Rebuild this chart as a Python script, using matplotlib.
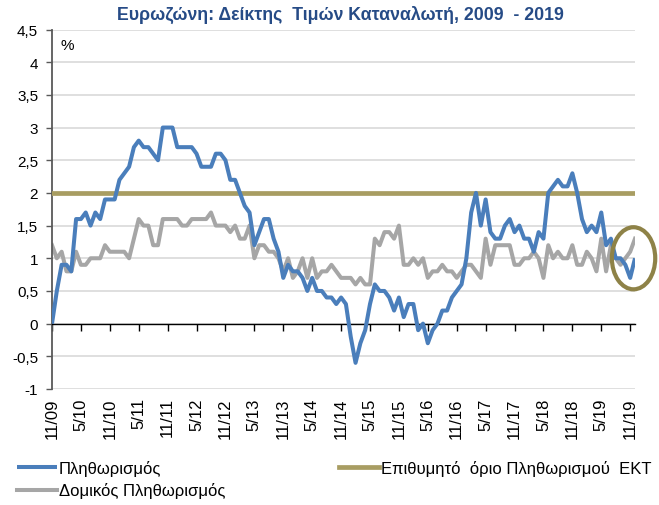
import matplotlib
matplotlib.use("Agg")
import matplotlib.pyplot as plt
from matplotlib.patches import Ellipse
from matplotlib.ticker import FixedLocator, FuncFormatter
import numpy as np

plt.rcParams['font.family'] = ['Liberation Sans', 'DejaVu Sans']

# ---- data (monthly, first point Oct 2009, last Nov 2019) ----
inflation = [0.0, 0.5, 0.9, 0.9, 0.8, 1.6, 1.6, 1.7, 1.5, 1.7, 1.6, 1.9,
             1.9, 1.9, 2.2, 2.3, 2.4, 2.7, 2.8, 2.7, 2.7, 2.6, 2.5, 3.0,
             3.0, 3.0, 2.7, 2.7, 2.7, 2.7, 2.6, 2.4, 2.4, 2.4, 2.6, 2.6,
             2.5, 2.2, 2.2, 2.0, 1.8, 1.7, 1.2, 1.4, 1.6, 1.6, 1.3, 1.1,
             0.7, 0.9, 0.8, 0.8, 0.7, 0.5, 0.7, 0.5, 0.5, 0.4, 0.4, 0.3,
             0.4, 0.3, -0.2, -0.6, -0.3, -0.1, 0.3, 0.6, 0.5, 0.5, 0.4, 0.2,
             0.4, 0.1, 0.3, 0.3, -0.1, 0.0, -0.3, -0.1, 0.0, 0.2, 0.2, 0.4,
             0.5, 0.6, 1.0, 1.7, 2.0, 1.5, 1.9, 1.4, 1.3, 1.3, 1.5, 1.6,
             1.4, 1.5, 1.3, 1.3, 1.1, 1.4, 1.3, 2.0, 2.1, 2.2, 2.1, 2.1,
             2.3, 2.0, 1.6, 1.4, 1.5, 1.4, 1.7, 1.2, 1.3, 1.0, 1.0, 0.9,
             0.7, 1.0]

core_inflation = [1.2, 1.0, 1.1, 0.8, 0.8, 1.1, 0.9, 0.9, 1.0, 1.0, 1.0, 1.2,
                  1.1, 1.1, 1.1, 1.1, 1.0, 1.3, 1.6, 1.5, 1.5, 1.2, 1.2, 1.6,
                  1.6, 1.6, 1.6, 1.5, 1.5, 1.6, 1.6, 1.6, 1.6, 1.7, 1.5, 1.5,
                  1.5, 1.4, 1.5, 1.3, 1.3, 1.5, 1.0, 1.2, 1.2, 1.1, 1.1, 1.0,
                  0.8, 1.0, 0.7, 0.8, 1.0, 0.7, 1.0, 0.7, 0.8, 0.8, 0.9, 0.8,
                  0.7, 0.7, 0.7, 0.6, 0.7, 0.6, 0.6, 1.3, 1.2, 1.4, 1.4, 1.3,
                  1.5, 0.9, 0.9, 1.0, 0.9, 1.0, 0.7, 0.8, 0.8, 0.9, 0.8, 0.8,
                  0.7, 0.8, 0.9, 0.9, 0.8, 0.7, 1.3, 0.9, 1.2, 1.2, 1.2, 1.2,
                  0.9, 0.9, 1.0, 1.0, 1.1, 1.0, 0.7, 1.2, 1.0, 1.1, 1.0, 1.0,
                  1.2, 0.9, 0.9, 1.1, 1.0, 0.8, 1.3, 0.8, 1.2, 1.0, 0.9, 1.0,
                  1.1, 1.3]

ecb_target = 2.0

tick_labels = ["11/09", "5/10", "11/10", "5/11", "11/11", "5/12", "11/12",
               "5/13", "11/13", "5/14", "11/14", "5/15", "11/15", "5/16",
               "11/16", "5/17", "11/17", "5/18", "11/18", "5/19", "11/19"]

y_ticks = [-1, -0.5, 0, 0.5, 1, 1.5, 2, 2.5, 3, 3.5, 4, 4.5]

legend_labels = ["Πληθωρισμός", "Δομικός Πληθωρισμός",
                 "Επιθυμητό  όριο Πληθωρισμού  ΕΚΤ"]
title = "Ευρωζώνη: Δείκτης  Τιμών Καταναλωτή, 2009  - 2019"

# ---- colors ----
c_blue = "#4A7EBB"
c_gray = "#A6A6A6"
c_gold = "#A89D62"
c_ellipse = "#8E8247"
c_title = "#264B86"

n = len(inflation)
x = np.arange(n)
tick_pos = np.arange(0, n, 6)[:len(tick_labels)]

fig = plt.figure(figsize=(6.59, 5.06), dpi=100)
ax = fig.add_axes([52/659, 1-390/506, (635-52)/659, (390-30.5)/506])

ax.set_xlim(0, n - 1)
ax.set_ylim(-1, 4.5)

# grid
ax.yaxis.set_major_locator(FixedLocator(y_ticks))
ax.grid(axis='y', color='#D9D9D9', linewidth=1.2, zorder=0)
ax.set_axisbelow(True)

l_blue, = ax.plot(x, inflation, color=c_blue, linewidth=2.9, zorder=4,
                  solid_joinstyle='round', solid_capstyle='butt')
l_gold, = ax.plot(x, [ecb_target] * n, color=c_gold, linewidth=3.4, zorder=3)
l_gray, = ax.plot(x, core_inflation, color=c_gray, linewidth=2.9, zorder=2,
                  solid_joinstyle='round')

# spines
for s in ['top', 'right']:
    ax.spines[s].set_visible(False)
ax.spines['left'].set_color('#595959')
ax.spines['left'].set_linewidth(1.3)
ax.spines['bottom'].set_position(('data', 0))
ax.spines['bottom'].set_color('black')
ax.spines['bottom'].set_linewidth(1.0)

ax.set_xticks(tick_pos)
ax.tick_params(axis='x', direction='out', length=5, width=1, color='black',
               labelbottom=False)
ax.tick_params(axis='y', direction='out', length=4, width=1, color='#595959',
               labelsize=11, pad=6)
ax.yaxis.set_major_formatter(FuncFormatter(
    lambda v, p: ('%g' % v).replace('.', ',')))

sec = ax.secondary_xaxis(0)
sec.set_xticks(tick_pos)
sec.set_xticklabels(tick_labels, rotation=90, fontsize=12)
sec.tick_params(length=0, pad=6)
sec.spines['bottom'].set_visible(False)

ax.text(0.027, 0.975, "%", transform=ax.transAxes, fontsize=11,
        ha='center', va='top')

ell = Ellipse((120.7, 1.0), 9.0, 0.95, fill=False, edgecolor=c_ellipse,
              linewidth=3, clip_on=False, zorder=5)
ax.add_patch(ell)

fig.text(340/659, 1-15/506, title, ha='center', va='center', fontsize=12.8,
         fontweight='bold', color=c_title)

fig.legend([l_blue, l_gray, l_gold], legend_labels, loc='upper left',
           bbox_to_anchor=(0.015, 1-454/506), ncol=2, frameon=False,
           fontsize=12, handlelength=2.4, handletextpad=0.15,
           columnspacing=6.8, labelspacing=0.4, borderaxespad=0)

fig.savefig("out.png", dpi=100)
